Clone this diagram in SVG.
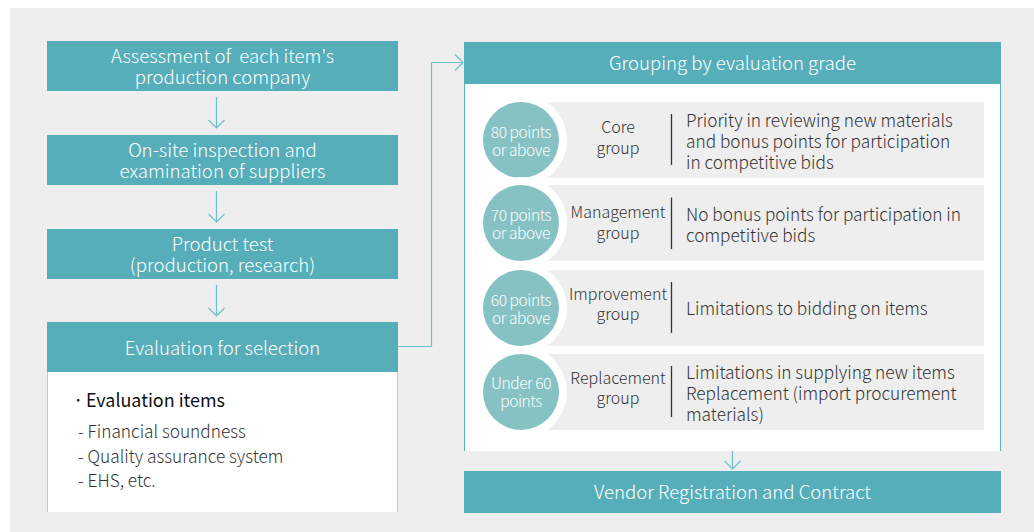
<svg xmlns="http://www.w3.org/2000/svg" width="1034" height="532" viewBox="0 0 1034 532">
<style>
text{font-family:"Noto Sans CJK KR","Noto Sans",sans-serif;font-weight:300;white-space:pre}
.hd{fill:#56aeba}
.ht{fill:#fff;font-size:18.6px;text-anchor:middle}
.con{stroke:#6dbfca;stroke-width:1.2;fill:none}
.row{fill:#eeeeee}
.halo{fill:#fff}
.circ{fill:#86c2c4}
.ct{fill:#fff;font-size:15.5px;text-anchor:middle;letter-spacing:-0.4px}
.gl{fill:#333;font-size:16px;text-anchor:middle}
.desc{fill:#333;font-size:17.25px}
.dv{stroke:#333;stroke-width:1.3}
.side{stroke:#5bb5c0;stroke-width:1}
.sideL{stroke:#a6d4da;stroke-width:1}
.item{fill:#333;font-size:17.25px}
.ei{fill:#111;font-size:18.6px;font-weight:400}
</style>
<rect x="10" y="8" width="1024" height="524" fill="#eeeeee"/>

<g id="connectors">
<path class="con" d="M216.5 97V128M208.5 120L216.5 128L224.5 120"/>
<path class="con" d="M216.5 191V222M208.5 214L216.5 222L224.5 214"/>
<path class="con" d="M216.5 285V316M208.5 308L216.5 316L224.5 308"/>
<path class="con" d="M398 346.5H431.5V62.5H463M455 54.5L463 62.5L455 70.5"/>
<path class="con" d="M732.5 451V469M724.5 461L732.5 469L740.5 461"/>
</g>

<g id="n1">
<rect class="hd" x="47" y="41" width="351" height="50"/>
<text class="ht" x="222.5" y="63" xml:space="preserve">Assessment of  each item's</text>
<text class="ht" x="222.5" y="84">production company</text>
</g>
<g id="n2">
<rect class="hd" x="47" y="135" width="351" height="50"/>
<text class="ht" x="222.5" y="157">On-site inspection and</text>
<text class="ht" x="222.5" y="178">examination of suppliers</text>
</g>
<g id="n3">
<rect class="hd" x="47" y="229" width="351" height="50"/>
<text class="ht" x="222.5" y="251">Product test</text>
<text class="ht" x="222.5" y="272">(production, research)</text>
</g>
<g id="n4">
<rect x="47" y="372" width="351" height="140" fill="#fff"/>
<path class="sideL" d="M47.5 372V512M397.5 372V512"/>
<rect class="hd" x="47" y="322" width="351" height="50"/>
<text class="ht" x="222.5" y="355">Evaluation for selection</text>
<text class="ei" x="73" y="407">·</text>
<text class="ei" x="86" y="407" textLength="139" lengthAdjust="spacingAndGlyphs">Evaluation items</text>
<text class="item" x="78" y="438">- Financial soundness</text>
<text class="item" x="78" y="462.5">- Quality assurance system</text>
<text class="item" x="78" y="487">- EHS, etc.</text>
</g>

<g id="n5">
<rect x="464" y="84" width="537" height="367" fill="#fff"/>
<path class="side" d="M464.5 84V451M1000.5 84V451"/>
<rect class="hd" x="464" y="42" width="537" height="42"/>
<text class="ht" x="732.5" y="70">Grouping by evaluation grade</text>
</g>

<g id="g1">
<rect class="row" x="521" y="102" width="463" height="76"/>
<circle class="halo" cx="521" cy="140" r="46"/>
<circle class="circ" cx="521" cy="140" r="38"/>
<text class="ct" x="521" y="137.5">80 points</text>
<text class="ct" x="521" y="156">or above</text>
<text class="gl" x="618" y="133">Core</text>
<text class="gl" x="618" y="153.5">group</text>
<line class="dv" x1="671.5" y1="114" x2="671.5" y2="165"/>
<text class="desc" x="686" y="127">Priority in reviewing new materials</text>
<text class="desc" x="686" y="148">and bonus points for participation</text>
<text class="desc" x="686" y="169">in competitive bids</text>
</g>
<g id="g2">
<rect class="row" x="521" y="185" width="463" height="76"/>
<circle class="halo" cx="521" cy="223" r="46"/>
<circle class="circ" cx="521" cy="223" r="38"/>
<text class="ct" x="521" y="220.5">70 points</text>
<text class="ct" x="521" y="239">or above</text>
<text class="gl" x="618" y="218">Management</text>
<text class="gl" x="618" y="238.5">group</text>
<line class="dv" x1="671.5" y1="197.5" x2="671.5" y2="249"/>
<text class="desc" x="686" y="220.5">No bonus points for participation in</text>
<text class="desc" x="686" y="241.5">competitive bids</text>
</g>
<g id="g3">
<rect class="row" x="521" y="270" width="463" height="76"/>
<circle class="halo" cx="521" cy="308" r="46"/>
<circle class="circ" cx="521" cy="308" r="38"/>
<text class="ct" x="521" y="305.5">60 points</text>
<text class="ct" x="521" y="324">or above</text>
<text class="gl" x="618" y="299.5">Improvement</text>
<text class="gl" x="618" y="320">group</text>
<line class="dv" x1="671.5" y1="282" x2="671.5" y2="333"/>
<text class="desc" x="686" y="315">Limitations to bidding on items</text>
</g>
<g id="g4">
<rect class="row" x="521" y="354" width="463" height="76"/>
<circle class="halo" cx="521" cy="392" r="46"/>
<circle class="circ" cx="521" cy="392" r="38"/>
<text class="ct" x="521" y="388.5">Under 60</text>
<text class="ct" x="521" y="407">points</text>
<text class="gl" x="618" y="383.5">Replacement</text>
<text class="gl" x="618" y="404">group</text>
<line class="dv" x1="671.5" y1="366" x2="671.5" y2="417"/>
<text class="desc" x="686" y="378.5">Limitations in supplying new items</text>
<text class="desc" x="686" y="399.5">Replacement (import procurement</text>
<text class="desc" x="686" y="420.5">materials)</text>
</g>

<g id="n6">
<rect class="hd" x="464" y="471" width="537" height="42"/>
<text class="ht" x="732.5" y="499">Vendor Registration and Contract</text>
</g>
</svg>
